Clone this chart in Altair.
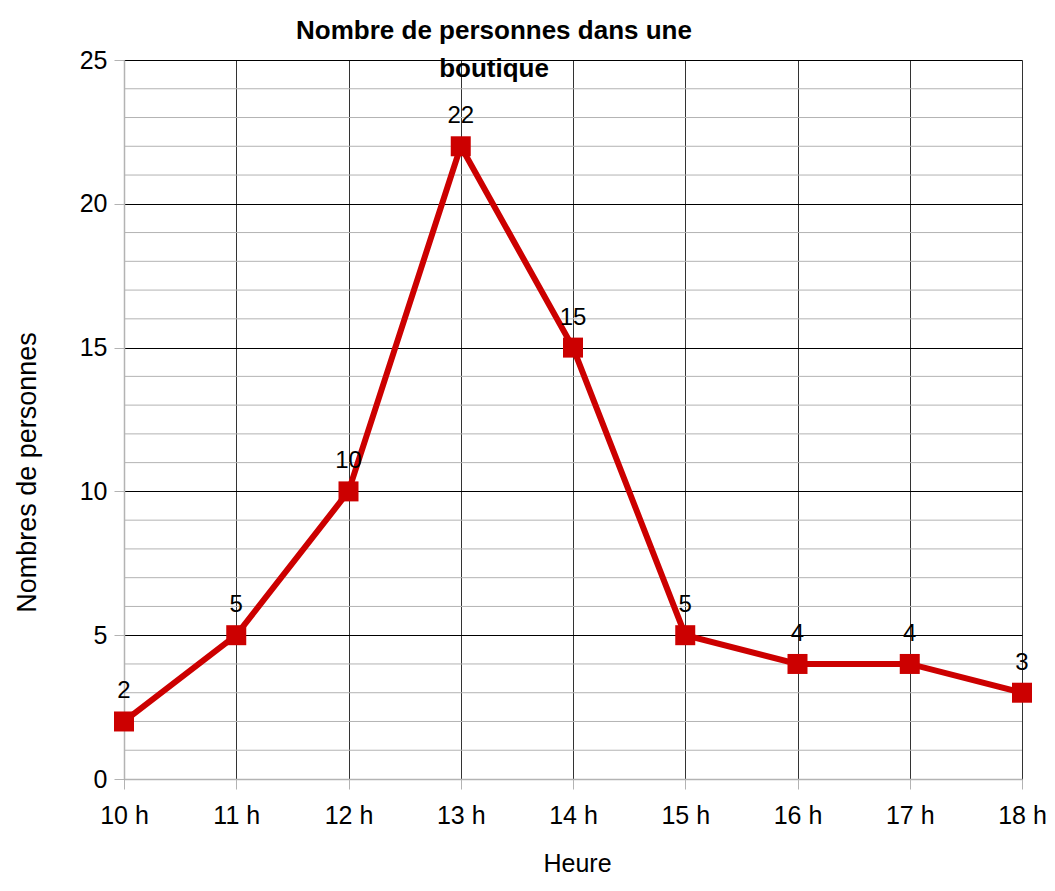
import altair as alt
import pandas as pd

heures = ["10 h", "11 h", "12 h", "13 h", "14 h", "15 h", "16 h", "17 h", "18 h"]
personnes = [2, 5, 10, 22, 15, 5, 4, 4, 3]
y_major = [0, 5, 10, 15, 20, 25]
y_minor = [1, 2, 3, 4, 6, 7, 8, 9, 11, 12, 13, 14, 16, 17, 18, 19, 21, 22, 23, 24]

df = pd.DataFrame({"heure": heures, "n": personnes})
df_minor = pd.DataFrame({"v": y_minor})

RED = "#cc0000"
GRAY = "#b3b3b3"
FONT = "Liberation Sans"

x_enc = alt.X(
    "heure:N",
    sort=heures,
    scale=alt.Scale(type="point", padding=0),
    axis=alt.Axis(
        title="Heure",
        labelAngle=0,
        labelFont=FONT,
        labelFontSize=25,
        labelColor="black",
        labelPadding=14,
        tickSize=10,
        tickColor=GRAY,
        domainColor=GRAY,
        domainWidth=1.5,
        grid=True,
        gridColor="#333333",
        gridWidth=1,
        titleFont=FONT,
        titleFontSize=25,
        titleFontWeight="normal",
        titleColor="black",
        titleAlign="center",
        titleBaseline="alphabetic",
        titleX=453,
        titleY=92,
    ),
)

y_enc = alt.Y(
    "n:Q",
    scale=alt.Scale(domain=[0, 25]),
    axis=alt.Axis(
        title="Nombres de personnes",
        values=y_major,
        labelFont=FONT,
        labelFontSize=25,
        labelColor="black",
        labelPadding=7,
        tickSize=10,
        tickColor=GRAY,
        domainColor=GRAY,
        domainWidth=1.5,
        grid=True,
        gridColor="black",
        gridWidth=1,
        titleFont=FONT,
        titleFontSize=27,
        titleFontWeight="normal",
        titleColor="black",
        titleAngle=270,
        titleAlign="center",
        titleBaseline="middle",
        titleX=-97,
        titleY=412,
    ),
)

minor = alt.Chart(df_minor).mark_rule(color=GRAY, strokeWidth=1).encode(
    y=alt.Y("v:Q", scale=alt.Scale(domain=[0, 25]))
)

base = alt.Chart(df).encode(x=x_enc, y=y_enc)
line = base.mark_line(color=RED, strokeWidth=6)
points = base.mark_square(color=RED, size=400, opacity=1)
labels = base.mark_text(
    font=FONT, fontSize=24, color="black", baseline="alphabetic", dy=-23
).encode(text="n:Q")

chart = (
    alt.layer(minor, line, points, labels)
    .properties(
        width=898,
        height=719,
        autosize=alt.AutoSizeParams(type="none"),
        padding={"left": 116, "top": 52, "right": 25, "bottom": 98},
        title=alt.TitleParams(
            text=["Nombre de personnes dans une", "boutique"],
            font=FONT,
            fontSize=26,
            fontWeight="bold",
            color="black",
            lineHeight=38,
            anchor="middle",
            baseline="alphabetic",
            dx=-79,
            dy=55,
            offset=0,
        ),
    )
    .configure_view(stroke=None)
)

chart.save("out.html", embed_options={"renderer": "svg", "actions": False})
